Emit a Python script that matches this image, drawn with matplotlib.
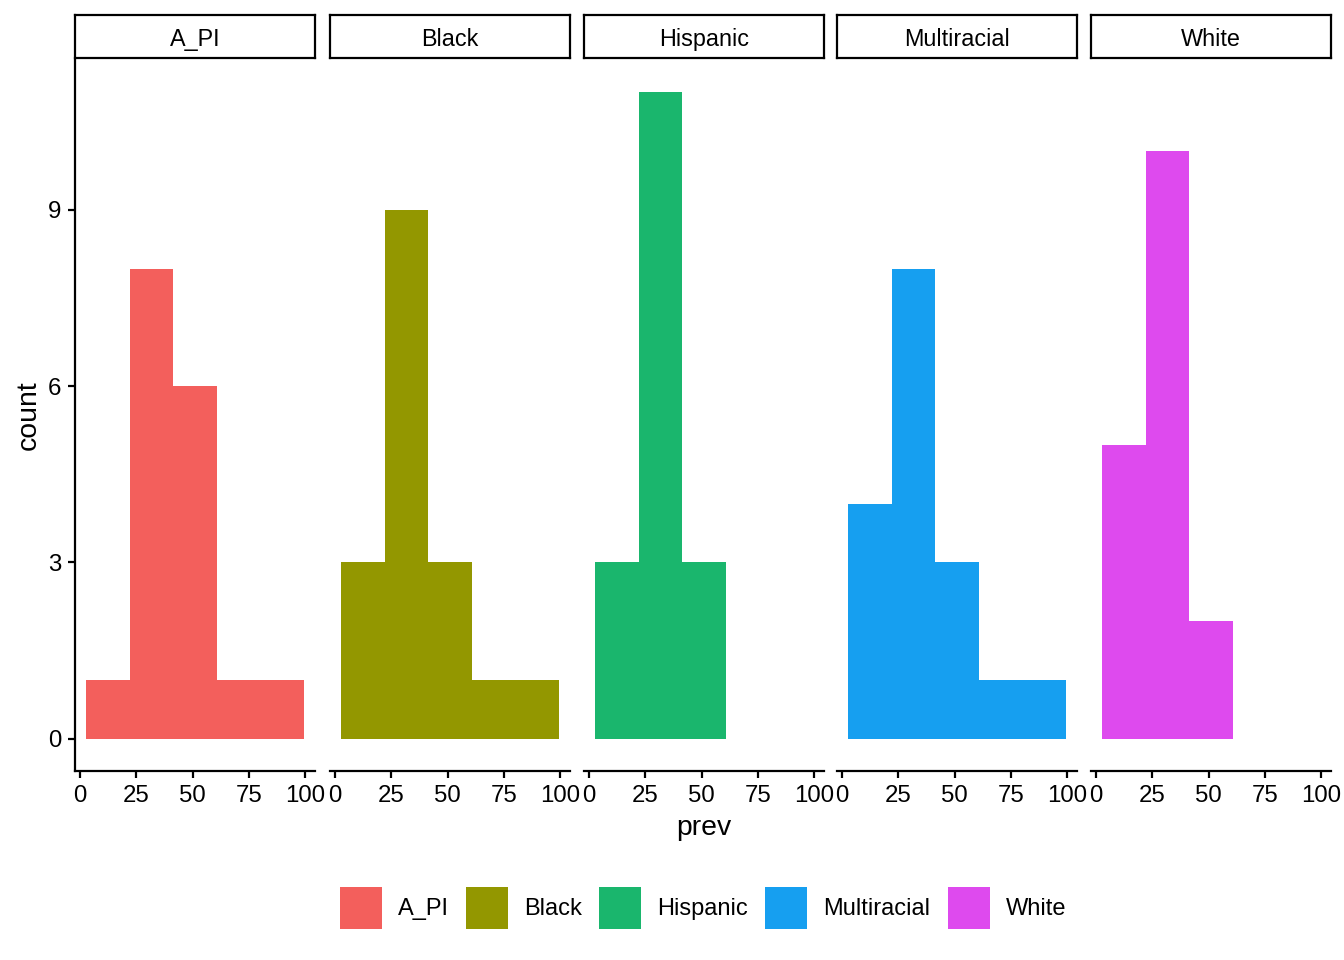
import matplotlib.pyplot as plt
from matplotlib.patches import Patch
import numpy as np

plt.rcParams['font.family'] = ['Liberation Sans', 'DejaVu Sans']

groups = ['A_PI', 'Black', 'Hispanic', 'Multiracial', 'White']
colors = ['#F35F5C', '#939700', '#1AB66D', '#169FF0', '#DE4AEE']
bin_edges = [2.6, 22.0, 41.4, 60.8, 80.2, 99.6]
counts = {
    'A_PI': [1, 8, 6, 1, 1],
    'Black': [3, 9, 3, 1, 1],
    'Hispanic': [3, 11, 3, 0, 0],
    'Multiracial': [4, 8, 3, 1, 1],
    'White': [5, 10, 2, 0, 0],
}
x_ticks = [0, 25, 50, 75, 100]
y_ticks = [0, 3, 6, 9]

W, H = 1344, 960
fig = plt.figure(figsize=(W / 100, H / 100), dpi=100)

lefts = [75, 330, 584, 837, 1091]
pw = 240
bottom, top = 771, 60
strip_top, strip_bot = 15, 58

edges = np.array(bin_edges)
for i, (g, c) in enumerate(zip(groups, colors)):
    ax = fig.add_axes([lefts[i] / W, 1 - bottom / H, pw / W, (bottom - top) / H])
    ax.bar(edges[:-1], counts[g], width=np.diff(edges), align='edge', color=c, linewidth=0)
    ax.set_xlim(-2.25, 104.45)
    ax.set_ylim(-0.55, 11.55)
    ax.set_xticks(x_ticks)
    ax.set_xticklabels([str(t) for t in x_ticks])
    for s in ['top', 'right']:
        ax.spines[s].set_visible(False)
    ax.spines['bottom'].set_linewidth(1.6)
    ax.spines['left'].set_linewidth(1.6)
    ax.tick_params(length=5, width=1.6, colors='black', labelsize=17.3, pad=5)
    if i == 0:
        ax.set_yticks(y_ticks)
        ax.set_ylabel('count', fontsize=20.4, labelpad=4)
    else:
        ax.set_yticks([])
        ax.spines['left'].set_visible(False)
    if i == 2:
        ax.set_xlabel('prev', fontsize=20.4, labelpad=6)

    sax = fig.add_axes([lefts[i] / W, 1 - strip_bot / H, pw / W, (strip_bot - strip_top) / H])
    sax.set_xticks([])
    sax.set_yticks([])
    for s in sax.spines.values():
        s.set_linewidth(1.6)
    sax.text(0.5, 0.44, g, ha='center', va='center', fontsize=16.8, transform=sax.transAxes)

handles = [Patch(facecolor=c, edgecolor='none', label=g) for g, c in zip(groups, colors)]
fig.legend(handles=handles, loc='center', bbox_to_anchor=(703 / W, 1 - 908 / H), ncol=5,
           frameon=False, fontsize=17, handlelength=1.79, handleheight=2.3,
           handletextpad=0.68, columnspacing=0.72)

fig.savefig('out.png', dpi=100, facecolor='white')
